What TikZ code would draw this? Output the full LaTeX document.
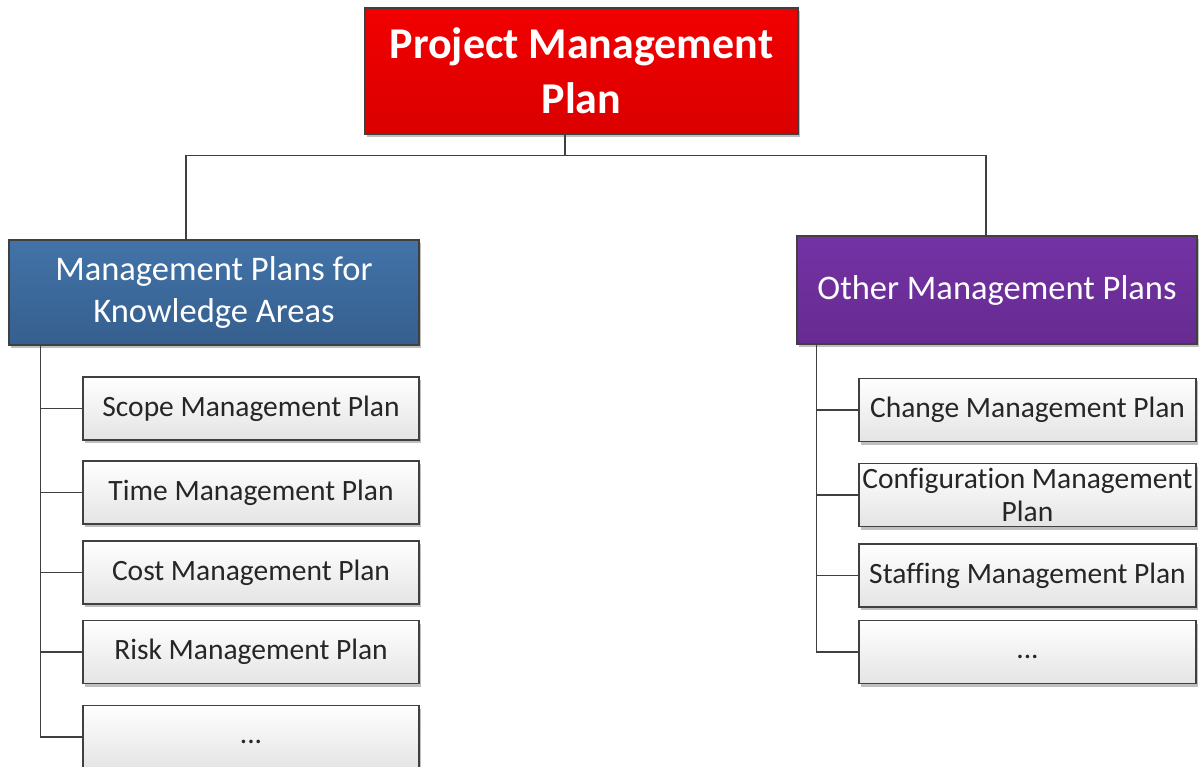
\documentclass[tikz,border=0pt]{standalone}
\usepackage{fontspec}
\setmainfont[Ligatures={NoCommon}]{Carlito}
\usetikzlibrary{shadows}
\definecolor{edge}{HTML}{404040}
\definecolor{redtop}{HTML}{F20000}
\definecolor{redbot}{HTML}{DA0000}
\definecolor{bluetop}{HTML}{4273A8}
\definecolor{bluebot}{HTML}{355F8E}
\definecolor{purtop}{HTML}{7432A4}
\definecolor{purbot}{HTML}{662B91}
\definecolor{greytop}{HTML}{FFFFFF}
\definecolor{greybot}{HTML}{E4E4E4}
\definecolor{txt}{HTML}{262626}
\tikzset{
  x=1pt, y=-1pt,
  boxbase/.style={draw=edge, line width=1.4pt, rectangle, align=center, inner sep=0pt,
    drop shadow={shadow xshift=2pt, shadow yshift=-3pt, opacity=0.25, fill=black}},
  topbox/.style={boxbase, top color=redtop, bottom color=redbot, text=white,
    minimum width=433pt, minimum height=126pt,
    font=\fontsize{44}{55}\selectfont\bfseries},
  bluebox/.style={boxbase, top color=bluetop, bottom color=bluebot, text=white,
    minimum width=410pt, minimum height=105pt,
    font=\fontsize{34.5}{42}\selectfont},
  purbox/.style={boxbase, top color=purtop, bottom color=purbot, text=white,
    minimum width=400pt, minimum height=108pt,
    font=\fontsize{34.5}{42}\selectfont},
  leafbox/.style={boxbase, top color=greytop, bottom color=greybot, text=txt,
    minimum height=63pt, font=\fontsize{29.5}{33}\selectfont},
  lleaf/.style={leafbox, minimum width=336pt},
  rleaf/.style={leafbox, minimum width=337pt},
  conn/.style={draw=edge, line width=1.4pt}
}
\begin{document}
\begin{tikzpicture}
\useasboundingbox (0,0) rectangle (1203,767);
\fill[white] (0,0) rectangle (1203,767);

\node[topbox] (pm) at (581.5,71) {Project Management\\Plan};
\node[bluebox] (ka) at (214,292.5) {Management Plans for\\Knowledge Areas};
\node[purbox] (om) at (997,290) {Other Management Plans};

\node[lleaf] (l1) at (251,408.5) {Scope Management Plan};
\node[lleaf] (l2) at (251,492.5) {Time Management Plan};
\node[lleaf] (l3) at (251,572.5) {Cost Management Plan};
\node[lleaf] (l4) at (251,652) {Risk Management Plan};
\node[lleaf] (l5) at (251,737) {\vphantom{Mg}...};

\node[rleaf] (r1) at (1027.5,410) {Change Management Plan};
\node[rleaf] (r2) at (1027.5,495) {Configuration Management\\Plan};
\node[rleaf] (r3) at (1027.5,575.5) {Staffing Management Plan};
\node[rleaf] (r4) at (1027.5,652) {\vphantom{Mg}...};

\coordinate (hub) at (565,155.5);
\coordinate (ls) at ([xshift=32pt]ka.south west);
\coordinate (rs) at ([xshift=20pt]om.south west);

\draw[conn] ([xshift=-16.5pt]pm.south) -- (hub);
\draw[conn] (hub) -| ([xshift=-28pt]ka.north);
\draw[conn] (hub) -| ([xshift=-11pt]om.north);

\draw[conn] (ls) |- (l5.west);
\foreach \n in {l1,l2,l3,l4} \draw[conn] (ls |- \n.west) -- (\n.west);
\draw[conn] (rs) |- (r4.west);
\foreach \n in {r1,r2,r3} \draw[conn] (rs |- \n.west) -- (\n.west);
\end{tikzpicture}
\end{document}
